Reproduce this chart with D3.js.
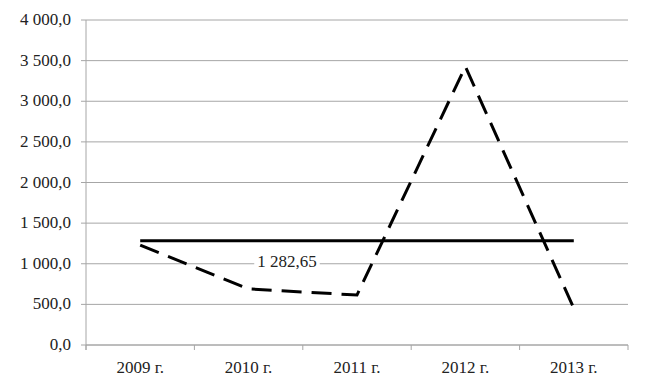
<!DOCTYPE html>
<html>
<head>
<meta charset="UTF-8">
<script src="https://d3js.org/d3.v7.min.js"></script>
<style>
  body { margin: 0; }
  svg text { font-family: "Liberation Serif", "Times New Roman", serif !important; font-size: 17px !important; fill: #222; }
</style>
</head>
<body>
<script>
  // данные
  const years = ["2009 г.", "2010 г.", "2011 г.", "2012 г.", "2013 г."];
  const values = [1230, 690, 615, 3426, 452];
  const meanValue = 1282.65;
  const meanLabel = "1 282,65";
  const yTicks = [0, 500, 1000, 1500, 2000, 2500, 3000, 3500, 4000];

  const width = 647, height = 389;
  const margin = { top: 20, right: 19, bottom: 44, left: 86 };

  const svg = d3.select("body").append("svg")
    .attr("width", width)
    .attr("height", height);

  const x = d3.scaleBand()
    .domain(years)
    .range([margin.left, width - margin.right]);

  const y = d3.scaleLinear()
    .domain([0, 4000])
    .range([height - margin.bottom, margin.top]);

  const fmt = v => d3.format(",.1f")(v).replace(/,/g, " ").replace(".", ",");

  // сетка
  svg.append("g")
    .selectAll("line")
    .data(yTicks)
    .join("line")
    .attr("x1", margin.left - 5)
    .attr("x2", width - margin.right)
    .attr("y1", d => y(d))
    .attr("y2", d => y(d))
    .attr("stroke", "#a6a6a6")
    .attr("stroke-width", 1);

  // ось Y
  svg.append("line")
    .attr("x1", margin.left).attr("x2", margin.left)
    .attr("y1", y(4000)).attr("y2", y(0) + 5)
    .attr("stroke", "#a6a6a6");

  svg.selectAll("text.ylab")
    .data(yTicks)
    .join("text")
    .attr("class", "ylab")
    .attr("x", margin.left - 15)
    .attr("y", d => y(d) + 5)
    .attr("text-anchor", "end")
    .text(d => fmt(d));

  // ось X
  svg.append("line")
    .attr("x1", margin.left).attr("x2", width - margin.right)
    .attr("y1", y(0)).attr("y2", y(0))
    .attr("stroke", "#a6a6a6");

  svg.selectAll("text.xlab")
    .data(years)
    .join("text")
    .attr("class", "xlab")
    .attr("x", d => x(d) + x.bandwidth() / 2)
    .attr("y", y(0) + 28)
    .attr("text-anchor", "middle")
    .text(d => d);

  // засечки между категориями
  const bounds = years.map(d => x(d)).concat([x.range()[1]]);
  svg.append("g")
    .selectAll("line")
    .data(bounds)
    .join("line")
    .attr("x1", d => d).attr("x2", d => d)
    .attr("y1", y(0)).attr("y2", y(0) + 5)
    .attr("stroke", "#a6a6a6");

  const cx = d => x(d) + x.bandwidth() / 2;

  // средняя линия
  svg.append("line")
    .attr("x1", cx(years[0]))
    .attr("x2", cx(years[years.length - 1]))
    .attr("y1", y(meanValue))
    .attr("y2", y(meanValue))
    .attr("stroke", "#000")
    .attr("stroke-width", 3);

  // подпись средней
  const lblG = svg.append("g");
  const bg = lblG.append("rect").attr("fill", "#fff");
  const lbl = lblG.append("text")
    .attr("x", 287)
    .attr("y", y(meanValue) + 26)
    .attr("text-anchor", "middle")
    .text(meanLabel);
  const bb = lbl.node().getBBox();
  bg.attr("x", bb.x - 3).attr("y", bb.y)
    .attr("width", bb.width + 6).attr("height", bb.height);

  // пунктирная линия
  const line = d3.line()
    .x((d, i) => cx(years[i]))
    .y(d => y(d));

  svg.append("path")
    .datum(values)
    .attr("d", line)
    .attr("fill", "none")
    .attr("stroke", "#000")
    .attr("stroke-width", 3)
    .attr("stroke-dasharray", "20,10");
</script>
</body>
</html>
